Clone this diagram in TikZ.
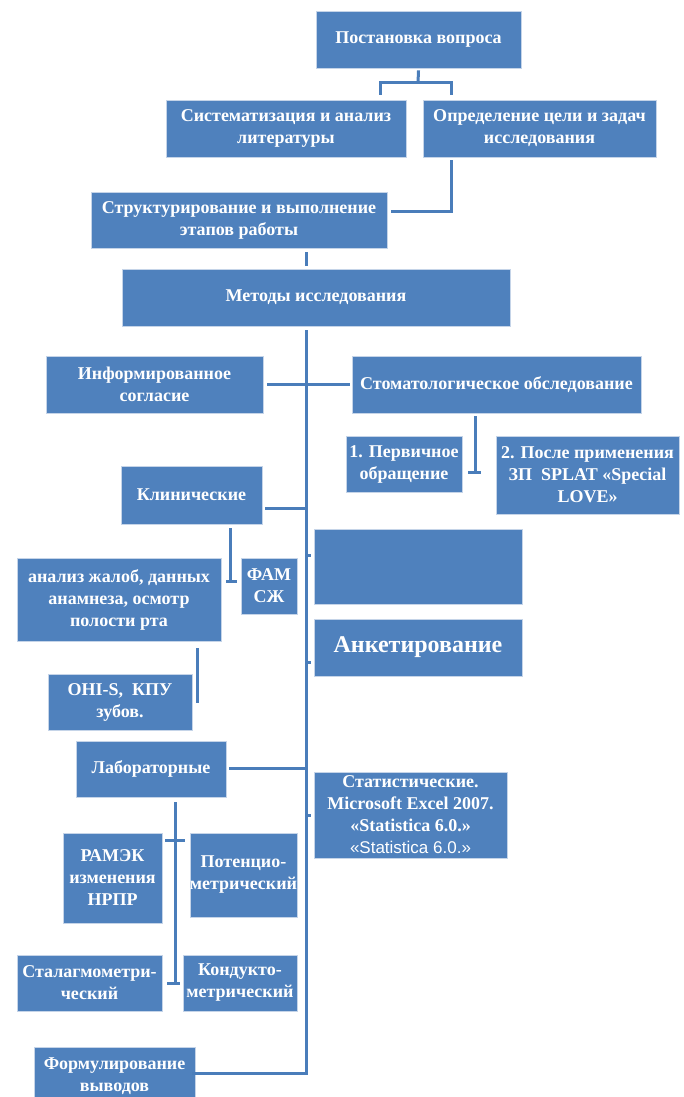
\documentclass[tikz,border=0pt]{standalone}
\usepackage{fontspec}
\setmainfont{Liberation Serif}
\newfontfamily\arialfont{Liberation Sans}
\definecolor{boxblue}{HTML}{4F81BD}
\definecolor{edgeblue}{HTML}{C5D4E8}
\definecolor{lineblue}{HTML}{4A7DBA}
\tikzset{
  box/.style={fill=boxblue, draw=edgeblue, line width=0.8pt, text=white,
    font=\bfseries\fontsize{18}{22}\selectfont, align=center, inner sep=0pt},
  conn/.style={draw=lineblue, line width=3pt}
}
\newcommand\bx[6]{%
  \pgfmathsetmacro\bxw{#4-#2}%
  \pgfmathsetmacro\bxh{#5-#3}%
  \pgfmathsetmacro\bxcx{(#2+#4)/2}%
  \pgfmathsetmacro\bxcy{(#3+#5)/2}%
  \node[box, minimum width=\bxw pt, minimum height=\bxh pt] (#1) at (\bxcx,\bxcy) {#6};}
\begin{document}
\begin{tikzpicture}[x=1pt,y=-1pt]
\useasboundingbox (0,0) rectangle (684,1097);
% boxes
\bx{q}{316}{11}{521}{68}{Постановка вопроса}
\bx{sys}{166}{100}{406}{157}{Систематизация и анализ\\литературы}
\bx{goal}{423}{100}{656}{157}{Определение цели и задач\\исследования}
\bx{struct}{91}{192}{387}{248}{Структурирование и выполнение\\этапов работы}
\bx{meth}{122}{269}{510}{326}{Методы исследования}
\bx{inf}{46}{356}{263}{413}{Информированное\\согласие}
\bx{stom}{352}{356}{641}{413}{Стоматологическое обследование}
\bx{first}{346}{436}{462}{492}{1. Первичное\\обращение}
\bx{after}{496}{436}{679}{514}{2. После применения\\ЗП\ \ SPLAT «Special\\LOVE»}
\bx{klin}{121}{466}{262}{524}{Клинические}
\bx{anal}{17}{558}{221}{641}{анализ жалоб, данных\\анамнеза, осмотр\\полости рта}
\bx{fam}{241}{558}{297}{614}{ФАМ\\СЖ}
\bx{blank}{314}{529}{522}{604}{}
\bx{ank}{314}{619}{522}{676}{\fontsize{24}{28}\selectfont Анкетирование}
\bx{ohi}{48}{674}{192}{730}{OHI-S,\ \ КПУ\\зубов.}
\bx{lab}{76}{741}{226}{797}{Лабораторные}
\bx{stat}{314}{772}{507}{858}{\fontsize{18}{21.5}\selectfont Статистические.\\Microsoft Excel 2007.\\«Statistica 6.0.»\\{\arialfont\mdseries\fontsize{17}{21.5}\selectfont «Statistica 6.0.»}}
\bx{ramek}{63}{833}{162}{923}{РАМЭК\\изменения\\НРПР}
\bx{pot}{190}{833}{297}{917}{Потенцио-\\метрический}
\bx{stal}{17}{955}{162}{1011}{Сталагмометри-\\ческий}
\bx{kond}{183}{955}{297}{1011}{Кондукто-\\метрический}
\bx{form}{34}{1047}{195}{1105}{Формулирование\\выводов}
% connector points
\coordinate (qm) at (418,83);
\coordinate (ql) at (380,95);
\coordinate (qr) at (451,95);
\coordinate (gs) at (451,160);
\coordinate (se) at (391,211);
\coordinate (sp0) at (306,330);
\coordinate (sp1) at (306,1073);
\coordinate (fe) at (192,1073);
\coordinate (ie) at (267,384);
\coordinate (sw) at (350,384);
\coordinate (st0) at (475,416);
\coordinate (st1) at (475,472);
\coordinate (ke) at (265,508);
\coordinate (kl0) at (230,528);
\coordinate (kl1) at (230,581);
\coordinate (oh0) at (197,648);
\coordinate (oh1) at (197,703);
\coordinate (le) at (229,768);
\coordinate (lb0) at (175,802);
\coordinate (lb1) at (175,983);
\coordinate (sb1) at (306,555);
\coordinate (sb2) at (306,662);
\coordinate (sb3) at (306,815);
% connectors
\draw[conn] ([yshift=-2pt]q.south) -- (qm);
\draw[conn] (ql) |- (qm) -| (qr);
\draw[conn] (gs) |- (se);
\draw[conn] ([yshift=-4pt]struct.south -| sp0) -- ([yshift=3pt]meth.north -| sp0);
\draw[conn] (sp0) -- (sp1) -- (fe);
\draw[conn] (ie) -- (sw);
\draw[conn] (st0) -- (st1);
\draw[conn] ([xshift=-7pt]st1) -- ([xshift=6pt]st1);
\draw[conn] (ke) -- (ke -| sp0);
\draw[conn] (kl0) -- (kl1);
\draw[conn] ([xshift=-4pt]kl1) -- ([xshift=7pt]kl1);
\draw[conn] (sb1) -- ([xshift=5pt]sb1);
\draw[conn] (sb2) -- ([xshift=5pt]sb2);
\draw[conn] (sb3) -- ([xshift=5pt]sb3);
\draw[conn] (oh0) -- (oh1);
\draw[conn] (le) -- (le -| sp0);
\draw[conn] (lb0) -- (lb1);
\draw[conn] ([xshift=-10pt]lb0 |- 0,840) -- ([xshift=10pt]lb0 |- 0,840);
\draw[conn] ([xshift=-8pt]lb1) -- ([xshift=5pt]lb1);
\end{tikzpicture}
\end{document}
